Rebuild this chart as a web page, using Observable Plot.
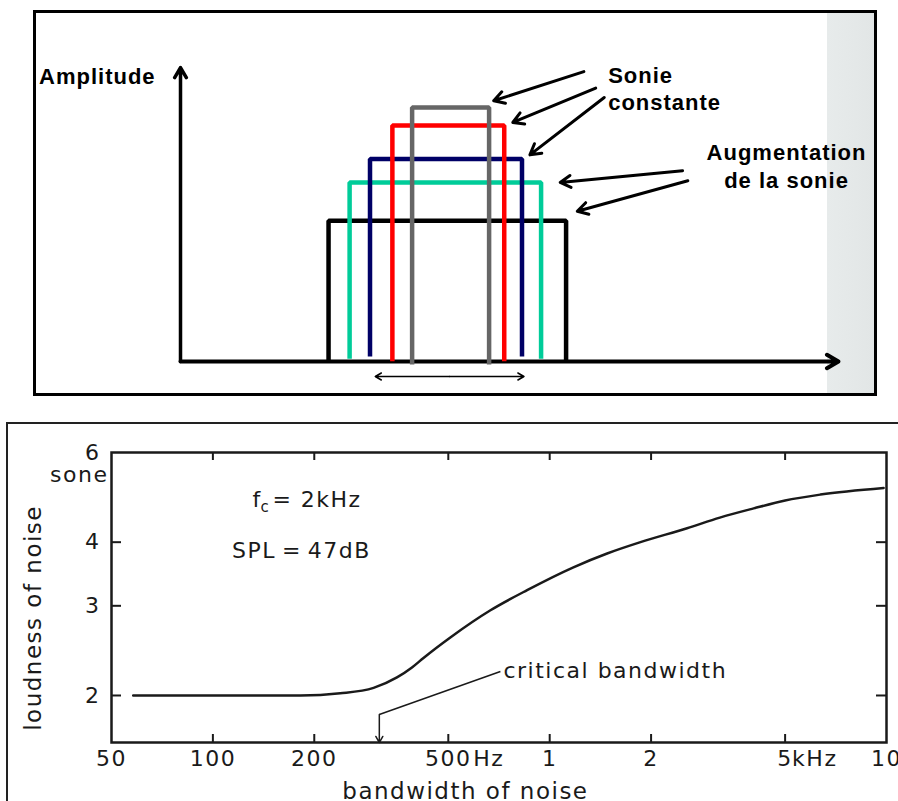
<!DOCTYPE html>
<html>
<head>
<meta charset="utf-8">
<script src="https://cdn.jsdelivr.net/npm/d3@7"></script>
<script src="https://cdn.jsdelivr.net/npm/@observablehq/plot@0.6"></script>
<style>
  html, body { margin: 0; padding: 0; background: #fff; }
  #wrap { position: relative; width: 898px; height: 801px; overflow: hidden; background: #fff; }
  #topbox { position: absolute; left: 33px; top: 10px; width: 844px; height: 386px; border: 3px solid #000; box-sizing: border-box;
            background: linear-gradient(to right, #fff 0, #fff 791px, #e7ebeb 791px, #e2e6e6 100%); }
  #top { position: absolute; left: 0; top: 0; }
  #bottomframe { position: absolute; left: 6px; top: 422px; width: 900px; height: 400px; border-top: 2px solid #222; border-left: 2px solid #222; }
  #bottom { position: absolute; left: 0; top: 400px; }
</style>
</head>
<body>
<div id="wrap">
  <div id="topbox"><div id="top"></div></div>
  <div id="bottomframe"></div>
  <div id="bottom"></div>
</div>
<script>
// ---------- Top panel: noise pulses (schematic, arbitrary units 0..100) ----------
const pulseNames  = ["bande 1", "bande 2", "bande 3", "bande 4", "bande 5"];
const pulseLeft   = [22.5, 25.7, 28.8, 32.2, 35.2];
const pulseRight  = [58.6, 54.8, 51.9, 49.2, 46.9];
const pulseLevel  = [47.9, 60.9, 68.9, 80.3, 86.4];
const pulseBase   = [0.3, 0.9, 1.7, 0.1, -1.0];
const pulseColors = ["#000000", "#00cc99", "#000066", "#ff0000", "#666666"];

const axisDomain = [0, 100];

const pointerFromX = [61.3, 63.1, 64.4, 76.3, 77.1];
const pointerFromY = [98.6, 93.0, 89.8, 64.9, 61.5];
const pointerToX   = [47.6, 50.5, 53.1, 57.7, 60.3];
const pointerToY   = [88.7, 81.3, 70.3, 60.9, 51.1];

const labelText = ["Amplitude", "Sonie", "constante", "Augmentation", "de la sonie"];
const labelX    = [-21.5, 65.0, 65.0, 92.1, 92.1];
const labelY    = [96.8, 97.2, 88.1, 70.8, 61.5];

const bandSpan = [29.6, 52.2];
const bandLevel = -5.1;

// ---------- Bottom panel: loudness vs bandwidth ----------
const bandwidthHz  = [58, 100, 182, 239, 300, 352, 390, 422, 507, 667, 857, 1176, 1481, 1860, 2558, 3200, 4032, 5000, 6363, 9808];
const loudnessSone = [2.0, 2.0, 2.0, 2.02, 2.07, 2.17, 2.27, 2.37, 2.60, 2.94, 3.22, 3.57, 3.80, 4.00, 4.26, 4.47, 4.66, 4.83, 4.96, 5.11];

const xDomain = [50, 10000];
const yDomain = [1.617, 6];
const xTicks = [50, 100, 200, 500, 1000, 2000, 5000, 10000];
const xTickText = ["50", "100", "200", "500", "1", "2", "5", "10"];
const xInnerTicks = [100, 200, 500, 1000, 2000, 5000];
const unitTicks = [500, 5000];
const unitText = ["Hz", "kHz"];
const yTicks = [2, 3, 4, 6];
const yInnerTicks = [2, 3, 4];

const criticalHz = 312;
const leaderX = [312, 714];
const leaderY = [1.835, 2.229];
const criticalLabel = {x: 729, y: 2.23, text: "critical bandwidth"};
const fcNote = {x: 131, y: 4.85};
const splNote = {x: 114, y: 3.85, text: "SPL\u2009=\u200947dB"};
const soneNote = {x: 50, y: 5.41, text: "sone"};
const yTitle = {y: 2.84, text: "loudness of noise"};
const xTitle = {x: 562, text: "bandwidth of noise"};

// ---------- Build top ----------
const pulseRows = pulseNames.flatMap((name, i) => [
  {name, x: pulseLeft[i],  y: pulseBase[i]},
  {name, x: pulseLeft[i],  y: pulseLevel[i]},
  {name, x: pulseRight[i], y: pulseLevel[i]},
  {name, x: pulseRight[i], y: pulseBase[i]}
]);
const pointers = pointerFromX.map((x, i) => ({x1: x, y1: pointerFromY[i], x2: pointerToX[i], y2: pointerToY[i]}));
const labels = labelText.map((t, i) => ({t, x: labelX[i], y: labelY[i]}));
const bandMid = (bandSpan[0] + bandSpan[1]) / 2;

const topFont = {fontFamily: "Liberation Sans, Arial, sans-serif", fontWeight: "bold", fontSize: 22};

const topPlot = Plot.plot({
  width: 838, height: 380,
  marginLeft: 144, marginRight: 36, marginTop: 54, marginBottom: 32,
  x: {domain: axisDomain, axis: null},
  y: {domain: axisDomain, axis: null},
  color: {type: "ordinal", domain: pulseNames, range: pulseColors},
  style: {background: "none", overflow: "visible", letterSpacing: "1px"},
  marks: [
    Plot.arrow([0], {x1: axisDomain[0], y1: axisDomain[0], x2: axisDomain[0], y2: axisDomain[1], stroke: "#000", strokeWidth: 3.5, headLength: 5}),
    Plot.arrow([0], {x1: axisDomain[0], y1: axisDomain[0], x2: axisDomain[1], y2: axisDomain[0], stroke: "#000", strokeWidth: 4, headLength: 5}),
    Plot.line(pulseRows, {x: "x", y: "y", z: "name", stroke: "name", strokeWidth: 4.5, strokeLinejoin: "miter", strokeLinecap: "butt"}),
    Plot.arrow(bandSpan, {x1: bandMid, y1: bandLevel, x2: d => d, y2: bandLevel, stroke: "#000", strokeWidth: 1.5, headLength: 7}),
    Plot.arrow(pointers, {x1: "x1", y1: "y1", x2: "x2", y2: "y2", stroke: "#000", strokeWidth: 3, headLength: 6}),
    Plot.text(labels.filter((d, i) => i < 3), {x: "x", y: "y", text: "t", textAnchor: "start", fill: "#000", ...topFont}),
    Plot.text(labels.filter((d, i) => i >= 3), {x: "x", y: "y", text: "t", textAnchor: "middle", fill: "#000", ...topFont})
  ]
});
document.getElementById("top").appendChild(topPlot);

// ---------- Build bottom ----------
const curve = bandwidthHz.map((f, i) => ({f, s: loudnessSone[i]}));
const ink = "#1a1a1a";
const xLabelFor = d => {
  const i = xTicks.findIndex(t => Math.abs(t - d) / t < 1e-6);
  return i < 0 ? "" : xTickText[i];
};
const units = unitTicks.map((x, i) => ({x, text: unitText[i]}));

const bottomPlot = Plot.plot({
  width: 898, height: 401,
  marginLeft: 111, marginRight: 12, marginTop: 52, marginBottom: 59,
  x: {type: "log", domain: xDomain, axis: null},
  y: {type: "log", domain: yDomain},
  style: {background: "none", overflow: "visible", fontFamily: "DejaVu Sans, sans-serif", fontSize: "22px", letterSpacing: "1.5px", color: ink},
  marks: [
    Plot.frame({stroke: ink, strokeWidth: 2.5}),
    Plot.ruleX(xInnerTicks, {x: d => d, insetTop: 282, stroke: ink, strokeWidth: 2}),
    Plot.ruleX(xInnerTicks, {x: d => d, insetBottom: 282, stroke: ink, strokeWidth: 2}),
    Plot.ruleY(yInnerTicks, {y: d => d, insetRight: 765, stroke: ink, strokeWidth: 2}),
    Plot.ruleY(yInnerTicks, {y: d => d, insetLeft: 765, stroke: ink, strokeWidth: 2}),
    Plot.text(xTicks, {x: d => d, frameAnchor: "bottom", text: d => xLabelFor(d), textAnchor: "middle", lineAnchor: "top", dy: 8, fill: ink}),
    Plot.text(units.slice(0, 1), {x: "x", frameAnchor: "bottom", text: "text", textAnchor: "start", lineAnchor: "top", dy: 8, dx: 25, fill: ink}),
    Plot.text(units.slice(1), {x: "x", frameAnchor: "bottom", text: "text", textAnchor: "start", lineAnchor: "top", dy: 8, dx: 7, fill: ink}),
    Plot.axisY(yTicks, {tickSize: 0, tickPadding: 11, label: null, tickFormat: d => String(d)}),
    Plot.line(curve, {x: "f", y: "s", stroke: ink, strokeWidth: 2.5, curve: "monotone-x"}),
    Plot.link([0], {x1: leaderX[1], y1: leaderY[1], x2: leaderX[0], y2: leaderY[0], stroke: ink, strokeWidth: 1.5}),
    Plot.arrow([0], {x1: criticalHz, y1: leaderY[0], x2: criticalHz, y2: yDomain[0], stroke: ink, strokeWidth: 1.5, headLength: 7}),
    Plot.text([criticalLabel], {x: "x", y: "y", text: "text", textAnchor: "start", fill: ink}),
    Plot.text([fcNote], {x: "x", y: "y", text: () => "f", textAnchor: "start", fill: ink}),
    Plot.text([fcNote], {x: "x", y: "y", text: () => "c", textAnchor: "start", fontSize: 15, dx: 8, dy: 8, fill: ink}),
    Plot.text([fcNote], {x: "x", y: "y", text: () => "= 2kHz", textAnchor: "start", dx: 20, fill: ink}),
    Plot.text([splNote], {x: "x", y: "y", text: "text", textAnchor: "start", fill: ink}),
    Plot.text([soneNote], {x: "x", y: "y", text: "text", textAnchor: "end", dx: -3, fill: ink}),
    Plot.text([yTitle], {y: "y", text: "text", frameAnchor: "left", textAnchor: "middle", lineAnchor: "middle", dx: -78, rotate: -90, fontSize: 23, fill: ink}),
    Plot.text([xTitle], {x: "x", text: "text", frameAnchor: "bottom", textAnchor: "middle", lineAnchor: "middle", dy: 49, fontSize: 23, fill: ink})
  ]
});
document.getElementById("bottom").appendChild(bottomPlot);
</script>
</body>
</html>
